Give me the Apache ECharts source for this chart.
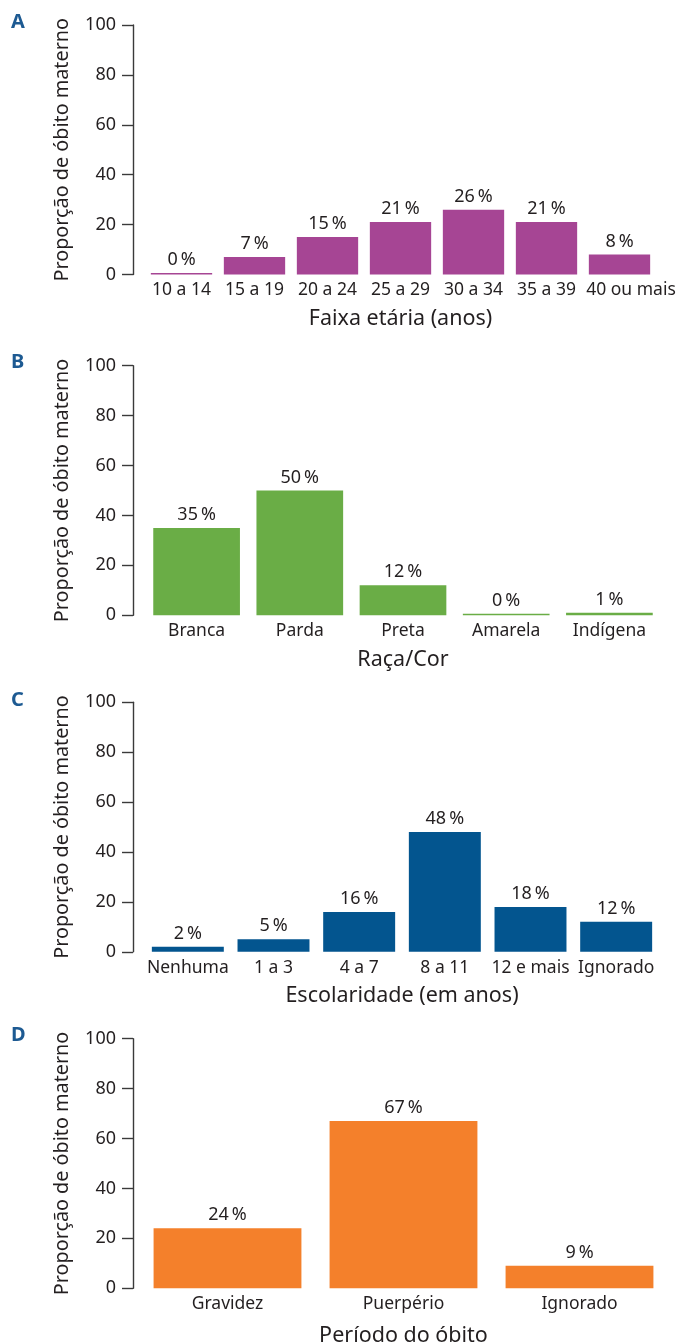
<!DOCTYPE html>
<html>
<head>
<meta charset="utf-8">
<script src="https://cdn.jsdelivr.net/npm/echarts@6/dist/echarts.min.js"></script>
<style>
  html, body { margin: 0; padding: 0; background: #ffffff; }
  #chart { width: 677px; height: 1343px; }
</style>
</head>
<body>
<div id="chart"></div>
<script>
// Maternal death proportion by characteristic (percent)
const faixaCategorias = ['10 a 14', '15 a 19', '20 a 24', '25 a 29', '30 a 34', '35 a 39', '40 ou mais'];
const faixaValores = [0, 7, 15, 21, 26, 21, 8];

const racaCategorias = ['Branca', 'Parda', 'Preta', 'Amarela', 'Indígena'];
const racaValores = [35, 50, 12, 0, 1];

const escolaridadeCategorias = ['Nenhuma', '1 a 3', '4 a 7', '8 a 11', '12 e mais', 'Ignorado'];
const escolaridadeValores = [2, 5, 16, 48, 18, 12];

const periodoCategorias = ['Gravidez', 'Puerpério', 'Ignorado'];
const periodoValores = [24, 67, 9];

const yTicks = [0, 20, 40, 60, 80, 100];
const yTitle = 'Proporção de óbito materno';
const panelLetters = ['A', 'B', 'C', 'D'];
const xTitles = ['Faixa etária (anos)', 'Raça/Cor', 'Escolaridade (em anos)', 'Período do óbito'];

const FONT = '"Noto Sans", "Open Sans", sans-serif';
const TEXT = '#231f20';
const AXIS = '#3a3a3a';

const panels = [
  { cats: faixaCategorias, vals: faixaValores, color: '#a64594', top: 25, left: 145, width: 511, offset: 12, letterY: 24, titleGap: 33, lastPad: 23 },
  { cats: racaCategorias, vals: racaValores, color: '#6aad46', top: 365.7, left: 145, width: 516, offset: 12, letterY: 364, titleGap: 34, lastPad: 0 },
  { cats: escolaridadeCategorias, vals: escolaridadeValores, color: '#03558f', top: 702.3, left: 145, width: 514, offset: 12, letterY: 702, titleGap: 33, lastPad: 0 },
  { cats: periodoCategorias, vals: periodoValores, color: '#f4802b', top: 1038.7, left: 139.5, width: 528, offset: 6.5, letterY: 1037, titleGap: 37, lastPad: 0 }
];

const GRID_H = 249.5;

// the last tick label of a crowded axis is nudged right so it clears its neighbour
function categoryData(p) {
  return p.cats.map((c, k) => (k === p.cats.length - 1 && p.lastPad)
    ? { value: c, textStyle: { padding: [0, 0, 0, p.lastPad] } }
    : c);
}

const option = {
  animation: false,
  backgroundColor: '#ffffff',
  textStyle: { fontFamily: FONT },
  grid: panels.map(p => ({
    left: p.left, top: p.top, width: p.width, height: GRID_H,
    containLabel: false, outerBoundsMode: 'none'
  })),
  xAxis: panels.map((p, i) => ({
    type: 'category',
    gridIndex: i,
    data: categoryData(p),
    name: xTitles[i],
    nameLocation: 'middle',
    nameGap: p.titleGap,
    nameTextStyle: { fontFamily: FONT, fontSize: 21.5, color: TEXT },
    axisLine: { show: false },
    axisTick: { show: false },
    axisLabel: { interval: 0, margin: 7, hideOverlap: false, fontFamily: FONT, fontSize: 17.5, color: TEXT }
  })),
  yAxis: panels.map((p, i) => ({
    type: 'value',
    gridIndex: i,
    min: yTicks[0],
    max: yTicks[yTicks.length - 1],
    interval: yTicks[1] - yTicks[0],
    offset: p.offset,
    name: yTitle,
    nameLocation: 'middle',
    nameGap: 61,
    nameTextStyle: { fontFamily: FONT, fontSize: 19.8, color: TEXT },
    splitLine: { show: false },
    axisLine: { show: true, lineStyle: { color: AXIS, width: 1.4 } },
    axisTick: { show: true, inside: false, length: 11, lineStyle: { color: AXIS, width: 1.4 } },
    axisLabel: { margin: 17, fontFamily: FONT, fontSize: 18, color: TEXT }
  })),
  series: panels.map((p, i) => ({
    type: 'bar',
    xAxisIndex: i,
    yAxisIndex: i,
    data: p.vals,
    barCategoryGap: '16%',
    barMinHeight: 1.5,
    itemStyle: { color: p.color },
    label: {
      show: true,
      position: 'top',
      distance: 4,
      fontFamily: FONT,
      fontSize: 18,
      color: TEXT,
      formatter: d => d.value + '\u2009%'
    }
  })),
  graphic: panels.map((p, i) => ({
    type: 'text',
    left: 11,
    top: p.letterY - 12,
    style: {
      text: panelLetters[i],
      fontFamily: FONT,
      fontSize: 20,
      fontWeight: 'bold',
      fill: '#1d5a92'
    }
  }))
};

const chart = echarts.init(document.getElementById('chart'), null, { renderer: 'canvas' });
chart.setOption(option);
</script>
</body>
</html>
